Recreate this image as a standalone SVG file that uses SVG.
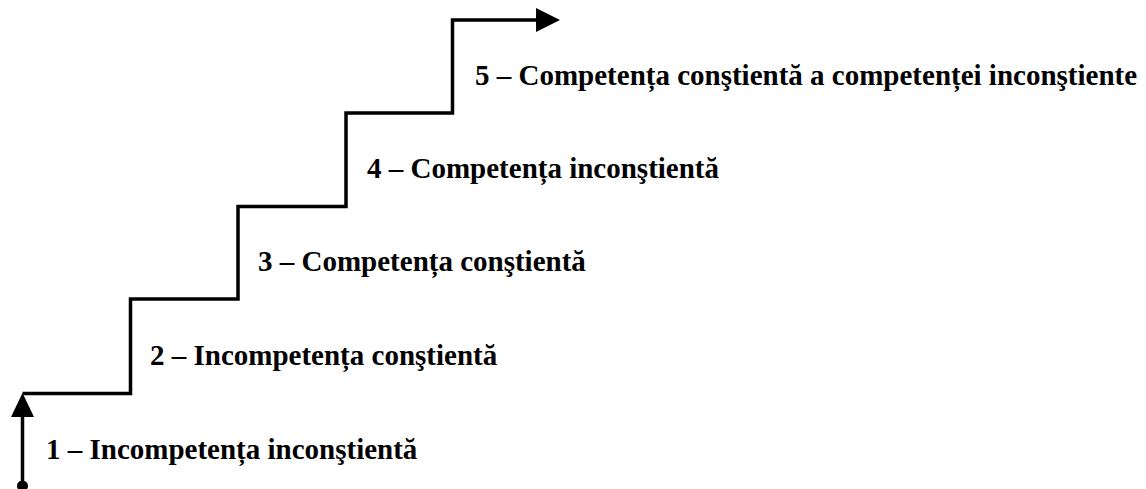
<svg xmlns="http://www.w3.org/2000/svg" width="1146" height="489" viewBox="0 0 1146 489">
<style>
.lbl{font-family:"Liberation Serif","Times New Roman",serif;font-weight:bold;font-size:29px;fill:#000}
.ln{fill:none;stroke:#000;stroke-width:3.5;stroke-linejoin:miter}
</style>
<rect width="1146" height="489" fill="#fff"/>
<g id="connectors">
<path class="ln" d="M22.5,486 V405"/>
<polygon points="22.5,393 11,417 34,417" fill="#000"/>
<circle cx="22.5" cy="486" r="5.5" fill="#000"/>
<path class="ln" d="M22.5,393.5 H130.5 V299 H238 V206.5 H346 V113 H452.5 V20 H540"/>
<polygon points="560,20 536,8 536,32" fill="#000"/>
</g>
<g id="step1"><text class="lbl" x="46" y="459">1 – Incompetența inconştientă</text></g>
<g id="step2"><text class="lbl" x="150" y="365">2 – Incompetența conştientă</text></g>
<g id="step3"><text class="lbl" x="258" y="271">3 – Competența conştientă</text></g>
<g id="step4"><text class="lbl" x="367" y="178">4 – Competența inconştientă</text></g>
<g id="step5"><text class="lbl" x="475" y="85">5 – Competența conştientă a competenței inconştiente</text></g>
</svg>
